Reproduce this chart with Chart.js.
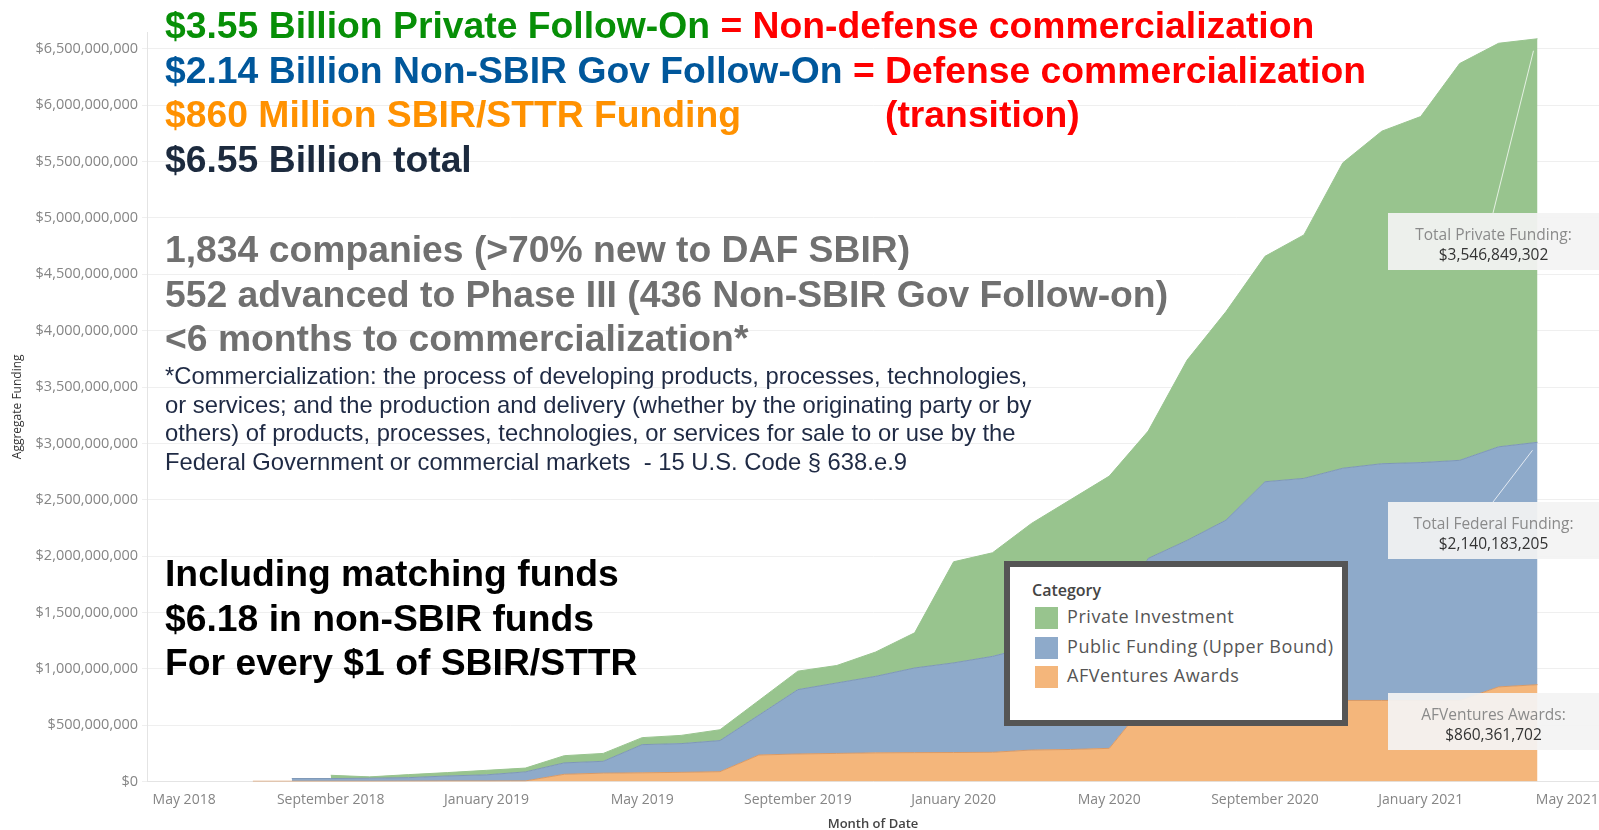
<!DOCTYPE html>
<html>
<head>
<meta charset="utf-8">
<script src="https://cdn.jsdelivr.net/npm/chart.js@4.4.1/dist/chart.umd.min.js"></script>
<style>
  html, body { margin: 0; padding: 0; background: #fff; }
  #wrap { position: relative; width: 1599px; height: 830px; overflow: hidden; }
  #wrap canvas { position: absolute; left: 0; top: 0; }
  .ov { position: absolute; white-space: nowrap; font-family: "Liberation Sans", Arial, sans-serif; }
  .big { font-size: 37.3px; font-weight: bold; line-height: 44.6px; }
  .small { font-size: 23.8px; line-height: 28.5px; color: #1f2a44; }
  .legend { position: absolute; left: 1004px; top: 561px; width: 332px; height: 153px;
            border: 6px solid #555; background: #fff; font-family: "Open Sans", sans-serif; }
  .legend .ttl { position: absolute; left: 22px; top: 12px; font-size: 16px; font-weight: 600; color: #444; }
  .legend .row { position: absolute; left: 25px; font-size: 18px; color: #555; letter-spacing: 0.55px; }
  .legend .sw { display: inline-block; width: 23px; height: 22px; vertical-align: middle; margin-right: 9px; }
  .note { position: absolute; left: 1388px; width: 211px; height: 57px; background: rgba(243,243,243,0.93);
          font-family: "Open Sans", sans-serif; text-align: center; font-size: 15.5px; line-height: 20px; }
  .note .a { margin-top: 11px; color: #8a8a8a; }
  .note .b { color: #333; margin-top: 0px; }
</style>
</head>
<body>
<div id="wrap">
  <canvas id="areaChart"></canvas>

  <div class="ov big" style="left:165px; top:3px;">
    <div><span style="color:#078f07">$3.55 Billion Private Follow-On</span> <span style="color:#ff0000">= Non-defense commercialization</span></div>
    <div><span style="color:#00579b">$2.14 Billion Non-SBIR Gov Follow-On</span> <span style="color:#ff0000">= Defense commercialization</span></div>
    <div><span style="color:#ff9100">$860 Million SBIR/STTR Funding</span></div>
    <div><span style="color:#1c2a3e">$6.55 Billion total</span></div>
  </div>
  <div class="ov big" style="left:885px; top:92px; color:#ff0000;">(transition)</div>

  <div class="ov big" style="left:165px; top:227px; color:#707070;">
    <div>1,834 companies (&gt;70% new to DAF SBIR)</div>
    <div>552 advanced to Phase III (436 Non-SBIR Gov Follow-on)</div>
    <div>&lt;6 months to commercialization*</div>
  </div>
  <div class="ov small" style="left:165px; top:362px;">
    <div>*Commercialization: the process of developing products, processes, technologies,</div>
    <div>or services; and the production and delivery (whether by the originating party or by</div>
    <div>others) of products, processes, technologies, or services for sale to or use by the</div>
    <div>Federal Government or commercial markets&nbsp; - 15 U.S. Code § 638.e.9</div>
  </div>
  <div class="ov big" style="left:165px; top:551px; color:#000;">
    <div>Including matching funds</div>
    <div>$6.18 in non-SBIR funds</div>
    <div>For every $1 of SBIR/STTR</div>
  </div>

  <div class="legend" id="legend">
    <div class="ttl">Category</div>
  </div>

  <div class="note" style="top:213px;"><div class="a">Total Private Funding:</div><div class="b">$3,546,849,302</div></div>
  <div class="note" style="top:502px;"><div class="a">Total Federal Funding:</div><div class="b">$2,140,183,205</div></div>
  <div class="note" style="top:693px;"><div class="a">AFVentures Awards:</div><div class="b">$860,361,702</div></div>
</div>

<script>
// months shown on the x axis (index 0 = May 2018)
const months = [
  'May 2018', 'June 2018', 'July 2018', 'August 2018', 'September 2018', 'October 2018',
  'November 2018', 'December 2018', 'January 2019', 'February 2019', 'March 2019', 'April 2019',
  'May 2019', 'June 2019', 'July 2019', 'August 2019', 'September 2019', 'October 2019',
  'November 2019', 'December 2019', 'January 2020', 'February 2020', 'March 2020', 'April 2020',
  'May 2020', 'June 2020', 'July 2020', 'August 2020', 'September 2020', 'October 2020',
  'November 2020', 'December 2020', 'January 2021', 'February 2021', 'March 2021', 'April 2021'
];
const tickMonths = ['May 2018', 'September 2018', 'January 2019', 'May 2019', 'September 2019',
  'January 2020', 'May 2020', 'September 2020', 'January 2021', 'May 2021'];
// y ticks, millions of dollars
const yTicks = [0, 500, 1000, 1500, 2000, 2500, 3000, 3500, 4000, 4500, 5000, 5500, 6000, 6500];

// aggregate funding, millions of dollars (stacked)
const afVentures = [null, null, 3, 3, 3, 3, 4, 5, 5, 6, 65, 75, 78, 82, 88, 236, 245, 250,
  255, 257, 258, 260, 280, 285, 295, 720, 720, 720, 720, 720, 720, 720, 720, 720, 840, 860];
const publicFunding = [null, null, null, 24, 24, 27, 31, 45, 55, 80, 101, 105, 250, 255, 276, 354, 571, 625,
  679, 751, 795, 851, 920, 995, 1065, 1260, 1420, 1600, 1940, 1970, 2060, 2100, 2110, 2130, 2130, 2150];
const privateInvestment = [null, null, null, null, 29, 12, 27, 30, 40, 34, 64, 70, 62, 73, 96, 130, 164, 155,
  216, 312, 897, 919, 1090, 1220, 1350, 1130, 1600, 1850, 2000, 2160, 2710, 2950, 3070, 3520, 3580, 3580];

const categories = ['Private Investment', 'Public Funding (Upper Bound)', 'AFVentures Awards'];
const colors = { green: '#98c48e', blue: '#8eaaca', orange: '#f4b67b' };

function pts(arr) {
  return arr.map((v, i) => ({ x: i, y: v }));
}

// legend rows (html, placed inside the plot like the original)
const legendEl = document.getElementById('legend');
[colors.green, colors.blue, colors.orange].forEach((c, i) => {
  const row = document.createElement('div');
  row.className = 'row';
  row.style.top = (37 + i * 29.5) + 'px';
  row.innerHTML = '<span class="sw" style="background:' + c + '"></span>' + categories[i];
  legendEl.appendChild(row);
});

// thin leader lines from the total boxes to the last point
const leaderLines = {
  id: 'leaderLines',
  afterDatasetsDraw(chart) {
    const last = months.length - 1;
    const totalPt = chart.getDatasetMeta(2).data[last];
    const publicPt = chart.getDatasetMeta(1).data[last];
    const ctx = chart.ctx;
    ctx.save();
    ctx.strokeStyle = 'rgba(255,255,255,0.75)';
    ctx.lineWidth = 1;
    ctx.beginPath();
    ctx.moveTo(1493, 213);
    ctx.lineTo(totalPt.x - 4, totalPt.y + 12);
    ctx.moveTo(1493, 502);
    ctx.lineTo(publicPt.x - 5, publicPt.y + 8);
    ctx.stroke();
    ctx.restore();
  }
};

const ctx = document.getElementById('areaChart').getContext('2d');
new Chart(ctx, {
  type: 'line',
  data: {
    datasets: [{
      label: categories[2],
      data: pts(afVentures),
      backgroundColor: colors.orange,
      borderColor: '#d99a66',
      borderWidth: 1,
      fill: 'origin'
    }, {
      label: categories[1],
      data: pts(publicFunding),
      backgroundColor: colors.blue,
      borderColor: '#7d97b6',
      borderWidth: 1,
      fill: '-1'
    }, {
      label: categories[0],
      data: pts(privateInvestment),
      backgroundColor: colors.green,
      borderColor: colors.green,
      borderWidth: 1,
      fill: '-1'
    }]
  },
  options: {
    responsive: true,
    maintainAspectRatio: false,
    animation: false,
    layout: { padding: { top: 32, right: 0, left: 0, bottom: 0 } },
    elements: { point: { radius: 0 }, line: { tension: 0 } },
    plugins: { legend: { display: false }, tooltip: { enabled: false } },
    scales: {
      x: {
        type: 'linear',
        min: -0.72,
        max: 36.58,
        afterBuildTicks: function(scale) {
          scale.ticks = tickMonths.map((m, i) => ({ value: i * 4 }));
        },
        afterFit: function(scale) {
          scale.height = 48.4;
          scale.paddingLeft = 0;
          scale.paddingRight = 0;
        },
        grid: { display: false },
        border: { color: '#e4e4e4' },
        ticks: {
          autoSkip: false,
          maxRotation: 0,
          padding: 2,
          color: '#858585',
          font: { family: "'Open Sans', sans-serif", size: 14 },
          callback: function(value) {
            const i = Math.round(value / 4);
            // first and last labels are nudged inward, as in the original
            if (i === 0) return '\u00a0\u00a0\u00a0\u00a0\u00a0' + tickMonths[i];
            if (i === tickMonths.length - 1) return tickMonths[i] + '\u00a0\u00a0\u00a0\u00a0\u00a0';
            return tickMonths[i];
          }
        },
        title: {
          display: true,
          text: 'Month of Date',
          color: '#444',
          font: { family: "'Open Sans', sans-serif", size: 13, weight: '600', lineHeight: 1.2 },
          padding: { top: 0, bottom: -2 }
        }
      },
      y: {
        stacked: true,
        min: 0,
        max: 6650,
        afterBuildTicks: function(scale) {
          scale.ticks = yTicks.map(v => ({ value: v }));
        },
        afterFit: function(scale) { scale.width = 147; },
        grid: { color: '#efefef', tickLength: 5 },
        border: { color: '#e4e4e4' },
        ticks: {
          padding: 4,
          color: '#858585',
          font: { family: "'Open Sans', sans-serif", size: 14.5 },
          callback: function(value) { return '$' + (value * 1000000).toLocaleString('en-US'); }
        },
        title: {
          display: true,
          text: 'Aggregate Funding',
          color: '#333',
          font: { family: "'Open Sans', sans-serif", size: 12 },
          padding: { top: 10, bottom: 0 }
        }
      }
    }
  },
  plugins: [leaderLines]
});
</script>
</body>
</html>
